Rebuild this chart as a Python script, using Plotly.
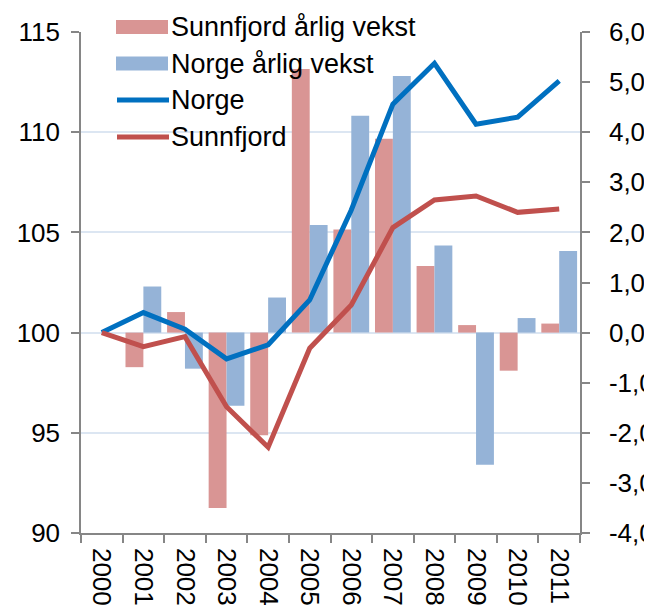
import plotly.graph_objects as go

years = [str(y) for y in range(2000, 2012)]
sunnfjord_growth = [None, -0.69, 0.41, -3.50, -2.05, 5.26, 2.06, 3.87, 1.33, 0.15, -0.76, 0.18]
norge_growth = [None, 0.92, -0.72, -1.46, 0.70, 2.15, 4.33, 5.12, 1.74, -2.64, 0.29, 1.63]
norge_index = [100, 101.0, 100.17, 98.69, 99.39, 101.63, 106.12, 111.4, 113.44, 110.4, 110.75, 112.56]
sunnfjord_index = [100, 99.3, 99.8, 96.3, 94.28, 99.22, 101.38, 105.24, 106.62, 106.82, 106.0, 106.17]
left_ticks = [90, 95, 100, 105, 110, 115]
right_ticks = [-4, -3, -2, -1, 0, 1, 2, 3, 4, 5, 6]
right_labels = ["-4,0", "-3,0", "-2,0", "-1,0", "0,0", "1,0", "2,0", "3,0", "4,0", "5,0", "6,0"]
legend_names = ["Sunnfjord årlig vekst", "Norge årlig vekst", "Norge", "Sunnfjord"]

C_SB = "#D99594"
C_NB = "#95B3D7"
C_NL = "#0070C0"
C_SL = "#C0504D"
AX = "#868686"
FONT = "Liberation Sans, Arial, sans-serif"

# page body has an 8px margin; compensate so the plot lands where the reference has it
OFF = 8
W, H = 652 - OFF, 608 - OFF
L, R, T, B = 81 - OFF, 72, 32 - OFF, 75
PW = W - L - R
PH = H - T - B

def px(x):  # screen pixel -> paper x
    return (x - OFF - L) / PW

def py(y):  # screen pixel -> paper y
    return (OFF + T + PH - y) / PH

fig = go.Figure()
fig.add_trace(go.Bar(x=years, y=sunnfjord_growth, name=legend_names[0], marker_color=C_SB,
                     marker_line_width=0, yaxis="y"))
fig.add_trace(go.Bar(x=years, y=norge_growth, name=legend_names[1], marker_color=C_NB,
                     marker_line_width=0, yaxis="y"))
fig.add_trace(go.Scatter(x=years, y=norge_index, name=legend_names[2], mode="lines",
                         line=dict(color=C_NL, width=5), yaxis="y2"))
fig.add_trace(go.Scatter(x=years, y=sunnfjord_index, name=legend_names[3], mode="lines",
                         line=dict(color=C_SL, width=5), yaxis="y2"))

shapes = []
annotations = []
rows = [27, 63.5, 100, 137]
for i, (name, yc) in enumerate(zip(legend_names, rows)):
    if i < 2:
        shapes.append(dict(type="rect", xref="paper", yref="paper",
                           x0=px(116), x1=px(168), y0=py(yc + 7), y1=py(yc - 7),
                           fillcolor=[C_SB, C_NB][i], line=dict(width=0), layer="above"))
    else:
        shapes.append(dict(type="line", xref="paper", yref="paper",
                           x0=px(117), x1=px(169), y0=py(yc), y1=py(yc),
                           line=dict(color=[C_NL, C_SL][i - 2], width=5), layer="above"))
    annotations.append(dict(text=name, xref="paper", yref="paper", x=px(169), y=py(yc),
                            xanchor="left", yanchor="middle", showarrow=False,
                            font=dict(size=27, color="black", family=FONT)))

fig.update_layout(
    width=W, height=H,
    margin=dict(l=L, r=R, t=T, b=B),
    paper_bgcolor="white", plot_bgcolor="white",
    font=dict(family=FONT, size=26, color="black"),
    showlegend=False,
    barmode="group", bargap=0.14, bargroupgap=0,
    shapes=shapes, annotations=annotations,
    xaxis=dict(type="category", range=[-0.5, 11.5], showline=True, linecolor=AX, linewidth=1.5,
               ticks="outside", tickson="boundaries", ticklen=8, tickcolor=AX, tickwidth=1.5,
               tickangle=90, tickfont=dict(size=26), showgrid=False, automargin=False,
               ticklabelstandoff=8),
    yaxis=dict(side="right", range=[-4, 6], tickvals=right_ticks, ticktext=right_labels,
               showline=True, linecolor=AX, linewidth=1.5, ticks="outside", ticklen=8,
               tickcolor=AX, tickwidth=1.5, showgrid=False, zeroline=False,
               ticklabelstandoff=14, automargin=False),
    yaxis2=dict(side="left", overlaying="y", range=[90, 115], tickvals=left_ticks,
                showline=True, linecolor=AX, linewidth=1.5, ticks="outside", ticklen=8,
                tickcolor=AX, tickwidth=1.5, showgrid=True, gridcolor="#DCE6F2", gridwidth=1.5,
                zeroline=False, ticklabelstandoff=6, automargin=False),
)

fig.write_html("out.html")
